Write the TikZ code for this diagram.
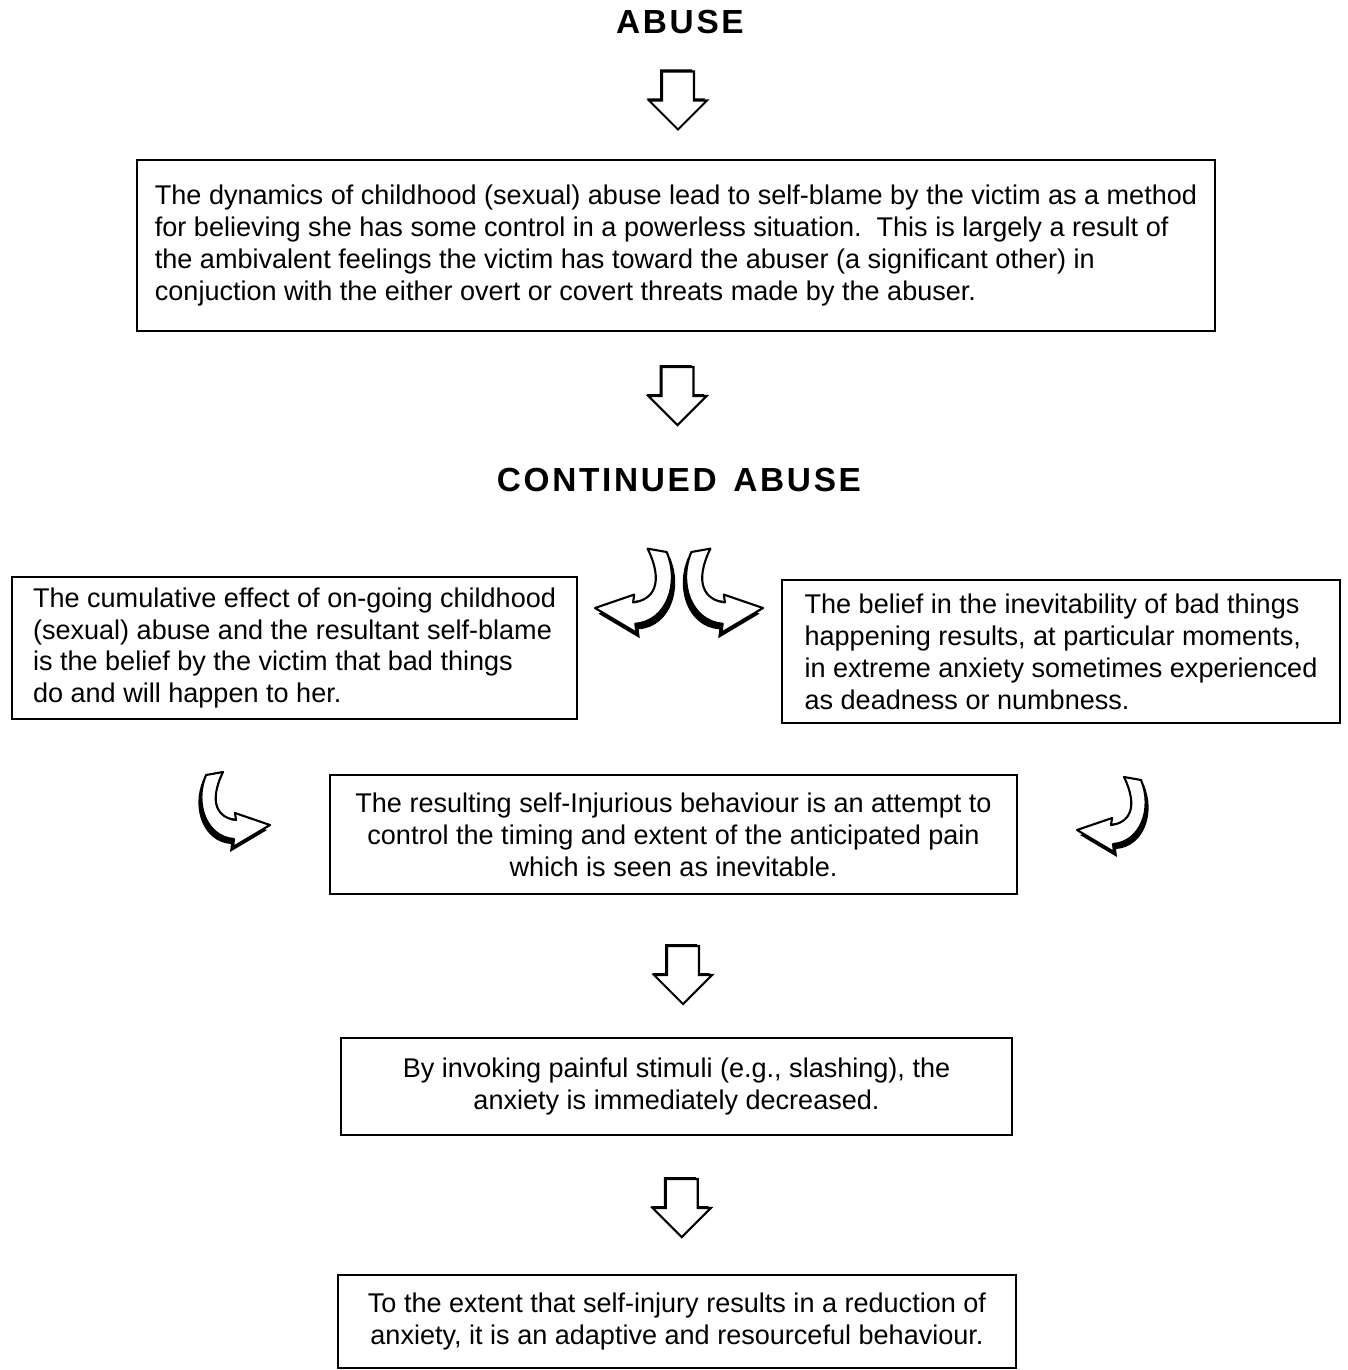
\documentclass[tikz,border=0pt]{standalone}
\usepackage{fontspec}
\setmainfont{Liberation Sans}
\usetikzlibrary{calc,positioning}

\newcommand{\bentpath}{(0,0) -- (35,-12) -- (34,-5) .. controls (52,-7) and (62,-22) .. (47,-53) -- (64,-50) .. controls (76,-22) and (64,12) .. (36,14) -- (37,22) -- cycle}

\tikzset{
  txtbox/.style={draw, line width=1.2pt, inner sep=0pt, font=\fontsize{15.4}{18.2}\selectfont},
  heading/.style={font=\fontsize{19}{21}\selectfont\bfseries\addfontfeature{LetterSpace=8}},
  downarrow/.pic={
    \fill[black] (-18,-30) -- (14,-30) -- (14,-1) -- (27,-1) -- (-1,28) -- (-31,-1) -- (-18,-1) -- cycle;
    \draw[fill=white, line width=1.2pt, line join=miter] (-16,-28) -- (16,-28) -- (16,1) -- (29,1) -- (0,30) -- (-29,1) -- (-16,1) -- cycle;
  },
  bentarrow/.pic={
    \fill[black, shift={(3,5)}] \bentpath;
    \draw[fill=white, line width=1.2pt, line join=round] \bentpath;
  }
}

\begin{document}
\begin{tikzpicture}[x=0.02cm, y=-0.02cm]
\useasboundingbox (0,0) rectangle (1348,1370);
%%Headings
\node[heading] (abuse) at (680,22) {ABUSE};
\node[heading] (contabuse) at (679,480) {CONTINUED\hspace{0.5em}ABUSE};
%%Boxes
\node[txtbox, minimum width=21.56cm, minimum height=3.42cm, align=left] (dynamics) at (676,245.5)
  {The dynamics of childhood (sexual) abuse lead to self-blame by the victim as a method\\
   for believing she has some control in a powerless situation.\ \ This is largely a result of\\
   the ambivalent feelings the victim has toward the abuser (a significant other) in\\
   conjuction with the either overt or covert threats made by the abuser.};
\node[txtbox, minimum width=11.3cm, minimum height=2.84cm, align=left] (cumulative) at (294.5,648)
  {The cumulative effect of on-going childhood\\
   (sexual) abuse and the resultant self-blame\\
   is the belief by the victim that bad things\\
   do and will happen to her.};
\node[txtbox, minimum width=11.16cm, minimum height=2.86cm, align=left] (belief) at (1061,651.5)
  {The belief in the inevitability of bad things\\
   happening results, at particular moments,\\
   in extreme anxiety sometimes experienced\\
   as deadness or numbness.};
\node[txtbox, minimum width=13.74cm, minimum height=2.38cm, align=center] (selfinj) at (673.5,834.5)
  {The resulting self-Injurious behaviour is an attempt to\\
   control the timing and extent of the anticipated pain\\
   which is seen as inevitable.};
\node[txtbox, minimum width=13.42cm, minimum height=1.94cm, align=center] (stimuli) at (676.5,1086.5)
  {By invoking painful stimuli (e.g., slashing), the\\
   anxiety is immediately decreased.};
\node[txtbox, minimum width=13.56cm, minimum height=1.86cm, align=center] (adaptive) at (677,1321.5)
  {To the extent that self-injury results in a reduction of\\
   anxiety, it is an adaptive and resourceful behaviour.};
%%Straight arrows
\pic at ($(abuse.south)!0.5!(dynamics.north)$) {downarrow};
\pic at ($(dynamics.south)!0.5!(contabuse.north)+(0,-2)$) {downarrow};
\pic at ($(selfinj.south)!0.5!(stimuli.north)+(8,8)$) {downarrow};
\pic at ($(stimuli.south)!0.5!(adaptive.north)+(5,2)$) {downarrow};
%%Bent arrows
\pic[scale=1.12] at (595,608) {bentarrow};
\pic[xscale=-1.12, yscale=1.12] at (763,608) {bentarrow};
\pic[xscale=-1] at (270,825) {bentarrow};
\pic at (1077,830) {bentarrow};
\end{tikzpicture}
\end{document}
